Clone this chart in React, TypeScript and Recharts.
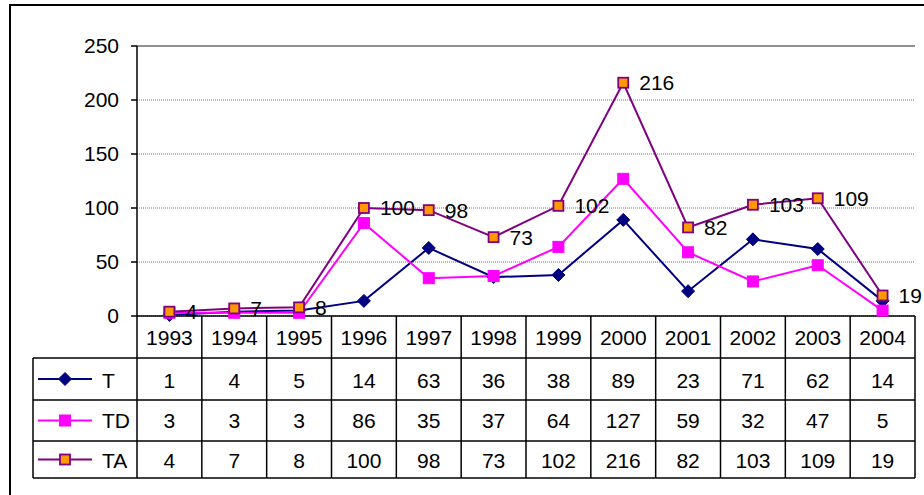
import React from 'react';
import { LineChart, Line, XAxis, YAxis, CartesianGrid, ReferenceLine } from 'recharts';

const years = ['1993', '1994', '1995', '1996', '1997', '1998', '1999', '2000', '2001', '2002', '2003', '2004'];
const seriesT = [1, 4, 5, 14, 63, 36, 38, 89, 23, 71, 62, 14];
const seriesTD = [3, 3, 3, 86, 35, 37, 64, 127, 59, 32, 47, 5];
const seriesTA = [4, 7, 8, 100, 98, 73, 102, 216, 82, 103, 109, 19];
const seriesNames = ['T', 'TD', 'TA'];
const yTicks = [0, 50, 100, 150, 200, 250];

const data = years.map((y, i) => ({ year: y, T: seriesT[i], TD: seriesTD[i], TA: seriesTA[i] }));

const W = 924;
const H = 495;
const MARGIN = { top: 46, right: 9, left: 37, bottom: 17 };
const YAXIS_W = 100;
const XAXIS_H = 162;
const PLOT_W = W - MARGIN.left - MARGIN.right - YAXIS_W;
const COL_W = PLOT_W / years.length;
const ROW_B = [0, 42, 84, 125, 162];
const ROW_BASE = [29, 72, 112, 152];
const LEGEND_W = 104;
const FONT = '"Liberation Sans", Arial, sans-serif';
const FS = 21;
const LINE_C = '#000';
const LW = 1.5;

const COLORS = { T: '#000080', TD: '#FF00FF', TA: '#800080', TAfill: '#FF9900' };

const Diamond = ({ cx, cy, r = 6.5 }: any) => (
  <polygon points={`${cx},${cy - r} ${cx + r},${cy} ${cx},${cy + r} ${cx - r},${cy}`} fill={COLORS.T} stroke={COLORS.T} strokeWidth={1} />
);
const SquareTD = ({ cx, cy, s = 11 }: any) => (
  <rect x={cx - s / 2} y={cy - s / 2} width={s} height={s} fill={COLORS.TD} stroke={COLORS.TD} strokeWidth={1} />
);
const SquareTA = ({ cx, cy, s = 10 }: any) => (
  <rect x={cx - s / 2} y={cy - s / 2} width={s} height={s} fill={COLORS.TAfill} stroke={COLORS.TA} strokeWidth={1.8} />
);

const renderDotT = (p: any) => <Diamond key={`t${p.index}`} cx={p.cx} cy={p.cy} />;
const renderDotTD = (p: any) => <SquareTD key={`td${p.index}`} cx={p.cx} cy={p.cy} />;
const renderDotTA = (p: any) => <SquareTA key={`ta${p.index}`} cx={p.cx} cy={p.cy} />;

const TableTick = (props: any) => {
  const { x, y, payload, index } = props;
  const left = x - COL_W / 2;
  const right = x + COL_W / 2;
  const rows = [seriesT, seriesTD, seriesTA];
  const last = index === years.length - 1;
  const lx = left - LEGEND_W;
  return (
    <g fontFamily={FONT} fontSize={FS} fill="#000">
      <line x1={left} y1={y} x2={left} y2={y + ROW_B[4]} stroke={LINE_C} strokeWidth={LW} />
      {last && <line x1={right} y1={y} x2={right} y2={y + ROW_B[4]} stroke={LINE_C} strokeWidth={LW} />}
      {ROW_B.slice(1).map((b) => (
        <line key={b} x1={left} y1={y + b} x2={right} y2={y + b} stroke={LINE_C} strokeWidth={LW} />
      ))}
      <text x={x} y={y + ROW_BASE[0]} textAnchor="middle">{payload.value}</text>
      {rows.map((r, k) => (
        <text key={k} x={x} y={y + ROW_BASE[k + 1]} textAnchor="middle">{r[index]}</text>
      ))}
      {index === 0 && (
        <g>
          <line x1={lx} y1={y + ROW_B[1]} x2={lx} y2={y + ROW_B[4]} stroke={LINE_C} strokeWidth={LW} />
          {ROW_B.slice(1).map((b) => (
            <line key={b} x1={lx} y1={y + b} x2={left} y2={y + b} stroke={LINE_C} strokeWidth={LW} />
          ))}
          {seriesNames.map((name, k) => {
            const cy = (y + ROW_B[k + 1] + y + ROW_B[k + 2]) / 2;
            const color = name === 'T' ? COLORS.T : name === 'TD' ? COLORS.TD : COLORS.TA;
            const mx = lx + 32;
            return (
              <g key={name}>
                <line x1={lx + 5} y1={cy} x2={lx + 59} y2={cy} stroke={color} strokeWidth={2} />
                {name === 'T' && <Diamond cx={mx} cy={cy} />}
                {name === 'TD' && <SquareTD cx={mx} cy={cy} />}
                {name === 'TA' && <SquareTA cx={mx} cy={cy} />}
                <text x={lx + 69} y={y + ROW_BASE[k + 1]} textAnchor="start">{name}</text>
              </g>
            );
          })}
        </g>
      )}
    </g>
  );
};

export default function App() {
  return (
    <div style={{ position: 'absolute', left: 0, top: 0, width: W, height: H, overflow: 'hidden', background: '#fff' }}>
      <div style={{ position: 'absolute', left: 9, top: 4, width: 1000, height: 1000, border: '2px solid #000', boxSizing: 'border-box' }} />
      <div style={{ position: 'absolute', left: 0, top: 0 }}>
        <LineChart width={W} height={H} data={data} margin={MARGIN} style={{ fontFamily: FONT }}>
          <CartesianGrid vertical={false} stroke="#505050" strokeWidth={0.8} strokeDasharray="1 1" />
          <ReferenceLine y={250} stroke="#909090" strokeWidth={2} />
          <XAxis
            dataKey="year"
            scale="band"
            interval={0}
            height={XAXIS_H}
            tickSize={0}
            tickMargin={0}
            tickLine={false}
            axisLine={{ stroke: LINE_C, strokeWidth: LW }}
            tick={(p: any) => <TableTick {...p} />}
          />
          <YAxis
            width={YAXIS_W}
            domain={[0, 250]}
            ticks={yTicks}
            interval={0}
            tickSize={6}
            tickMargin={12}
            axisLine={{ stroke: LINE_C, strokeWidth: LW }}
            tickLine={{ stroke: LINE_C, strokeWidth: LW }}
            tick={{ fill: '#000', fontSize: FS, fontFamily: FONT }}
          />
          <YAxis
            yAxisId="r"
            orientation="right"
            width={0}
            tick={false}
            tickLine={false}
            axisLine={{ stroke: '#909090', strokeWidth: 2 }}
          />
          <Line dataKey="T" stroke={COLORS.T} strokeWidth={2} dot={renderDotT} isAnimationActive={false} />
          <Line dataKey="TD" stroke={COLORS.TD} strokeWidth={2} dot={renderDotTD} isAnimationActive={false} />
          <Line
            dataKey="TA"
            stroke={COLORS.TA}
            strokeWidth={2}
            dot={renderDotTA}
            isAnimationActive={false}
            label={{ position: 'right', offset: 16, fill: '#000', fontSize: FS, fontFamily: FONT }}
          />
        </LineChart>
      </div>
    </div>
  );
}
